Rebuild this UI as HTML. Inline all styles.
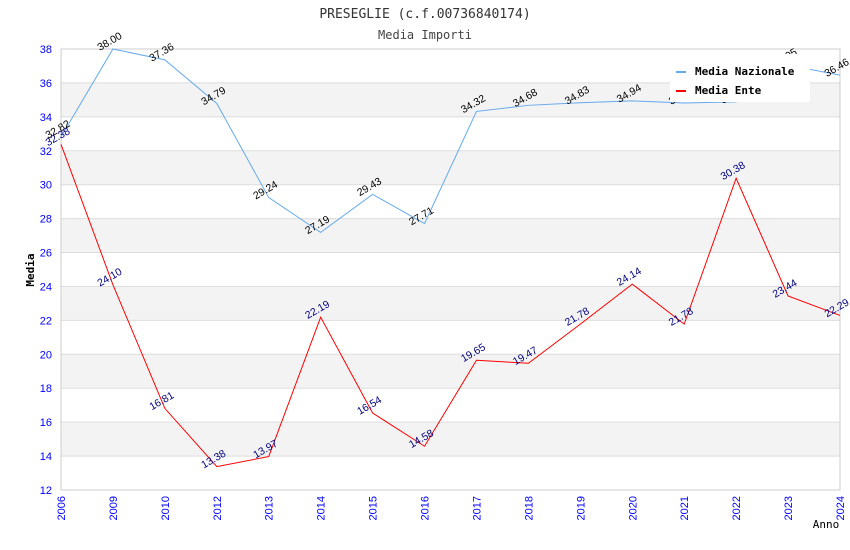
<!DOCTYPE html>
<html><head><meta charset="utf-8"><style>
body{margin:0;background:#fff;}
svg{display:block;}
.mono{font-family:"DejaVu Sans Mono","Liberation Mono",monospace;}
.sans{font-family:"Liberation Sans","DejaVu Sans",sans-serif;}
</style></head><body>
<svg id="chart" width="850" height="550" xmlns="http://www.w3.org/2000/svg">
<text class="mono" x="425" y="18" text-anchor="middle" font-size="13" fill="#333">PRESEGLIE (c.f.00736840174)</text>
<text class="mono" x="425" y="39" text-anchor="middle" font-size="12" fill="#444">Media Importi</text>
<g id="plot"></g>
<text class="mono" transform="translate(34,270) rotate(-90)" text-anchor="middle" font-size="11" font-weight="bold" fill="#000">Media</text>
<text class="mono" x="826" y="528" text-anchor="middle" font-size="11" fill="#000">Anno</text>
<g id="legend">
<rect x="670" y="54" width="140" height="48" fill="#fff"/>
<rect x="676" y="71" width="10" height="2" fill="#66aaee"/>
<text class="mono" x="695" y="75" font-size="11" font-weight="bold" fill="#000">Media Nazionale</text>
<rect x="676" y="90" width="10" height="2" fill="#ff0000"/>
<text class="mono" x="695" y="94" font-size="11" font-weight="bold" fill="#000">Media Ente</text>
</g>
</svg>
<script>
const categories=["2006","2009","2010","2012","2013","2014","2015","2016","2017","2018","2019","2020","2021","2022","2023","2024"];
const nazionale=[32.82,38.00,37.36,34.79,29.24,27.19,29.43,27.71,34.32,34.68,34.83,34.94,34.82,34.88,37.05,36.46];
const ente=[32.38,24.10,16.81,13.38,13.97,22.19,16.54,14.58,19.65,19.47,21.78,24.14,21.78,30.38,23.44,22.29];
const yTicks=[12,14,16,18,20,22,24,26,28,30,32,34,36,38];
const NS="http://www.w3.org/2000/svg";
const X0=61,X1=840,Y0=490,Y1=49,YMIN=12,YMAX=38;
function xs(i){return X0+(X1-X0)*i/(categories.length-1);}
function ys(v){return Y0-(v-YMIN)/(YMAX-YMIN)*(Y0-Y1);}
const g=document.getElementById('plot');
function mk(t,a){const e=document.createElementNS(NS,t);for(const k in a)e.setAttribute(k,a[k]);g.appendChild(e);return e;}
for(let i=0;i<yTicks.length-1;i++){
  if(i%2===1){const r=mk('rect',{x:X0,y:ys(yTicks[i+1]),width:X1-X0,height:ys(yTicks[i])-ys(yTicks[i+1]),fill:'#f3f3f3'});
  
  }
}
yTicks.forEach(v=>{
  const l=mk('line',{x1:X0,x2:X1,y1:ys(v),y2:ys(v),stroke:'#dddddd','stroke-width':1});
  
  
  const t=mk('text',{class:'sans',x:X0-9,y:ys(v)+4,'text-anchor':'end','font-size':11,fill:'#0000ff'});
  t.textContent=v;
  
  
});
const b=mk('rect',{x:X0,y:Y1,width:X1-X0,height:Y0-Y1,fill:'none',stroke:'#cccccc'});


categories.forEach((c,i)=>{
  const t=mk('text',{class:'sans',transform:`translate(${xs(i)+4},${Y0+6}) rotate(-90)`,'text-anchor':'end','font-size':11,fill:'#0000ff'});
  t.textContent=c;
  
  
});
function series(data,color,labelColor,name){
  const p=mk('polyline',{points:data.map((v,i)=>xs(i)+','+ys(v)).join(' '),fill:'none',stroke:color,'stroke-width':1});
  
  
  data.forEach((v,i)=>{
    const t=mk('text',{class:'sans',transform:`translate(${xs(i)-13},${ys(v)+2}) rotate(-30)`,'font-size':10.5,fill:labelColor});
    t.textContent=v.toFixed(2);
    
    
  });
}
series(nazionale,'#66aaee','#000000','nazionale');
series(ente,'#ff0000','#000080','ente');
document.getElementById('chart').appendChild(document.getElementById('legend'));
</script>
</body></html>
